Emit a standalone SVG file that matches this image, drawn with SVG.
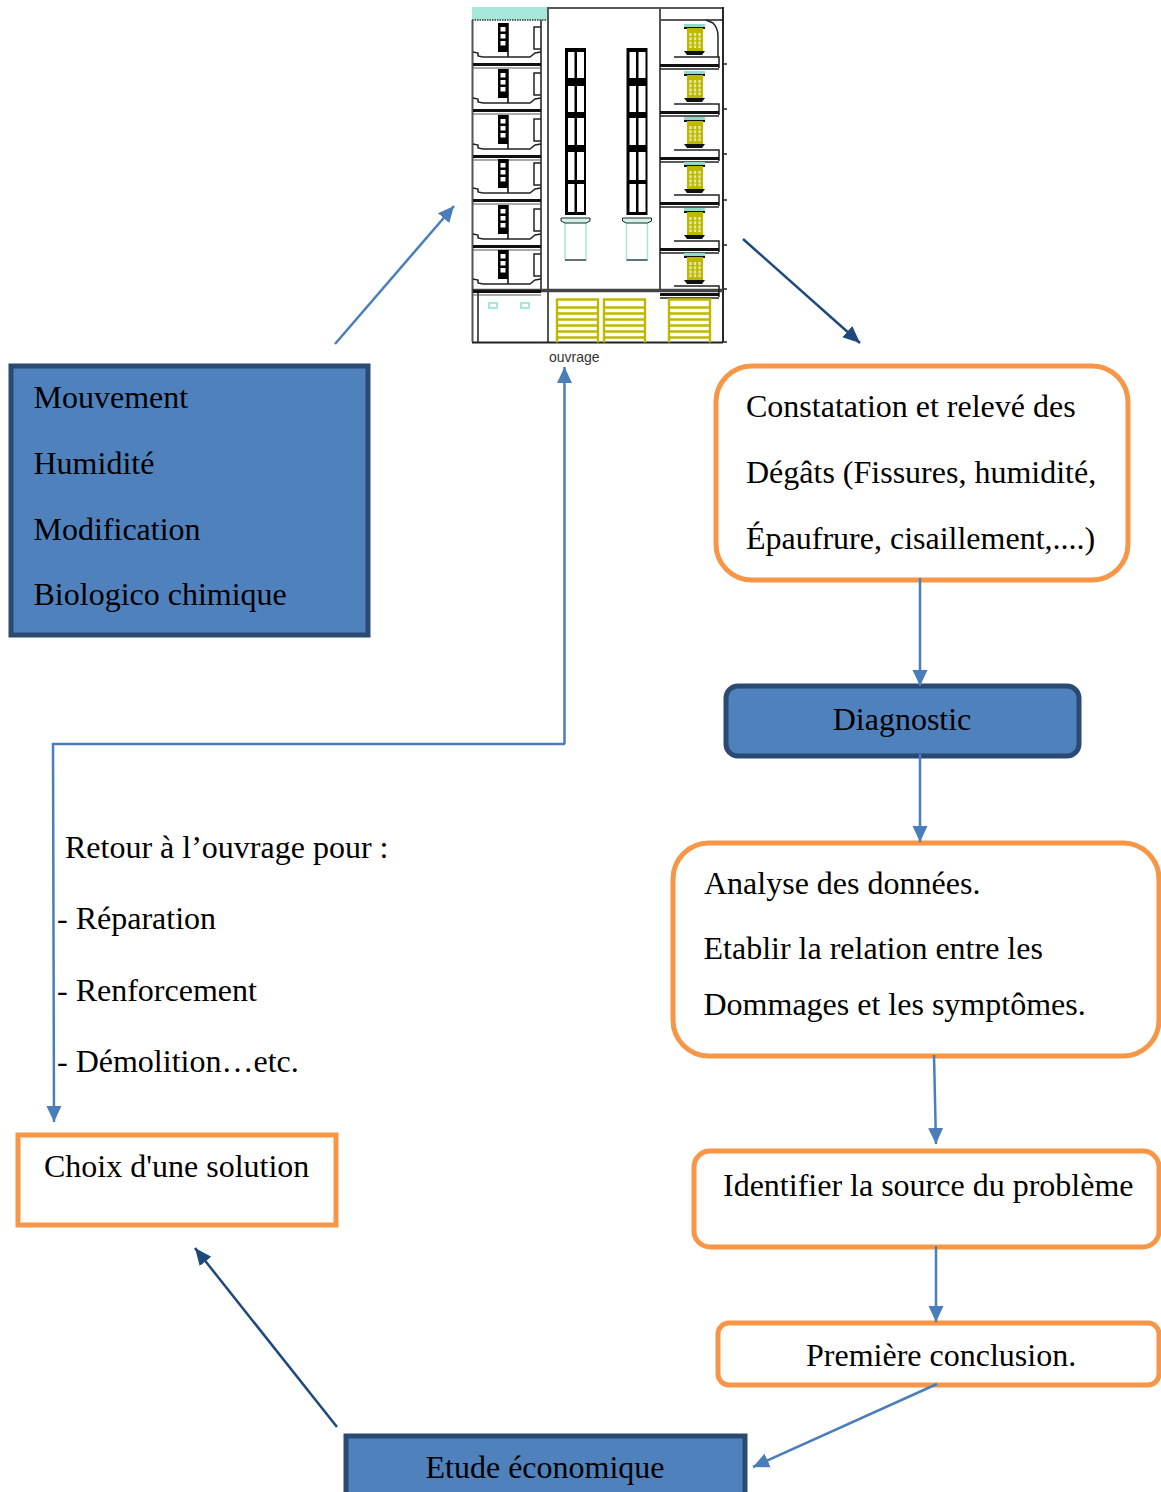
<svg xmlns="http://www.w3.org/2000/svg" xmlns:xlink="http://www.w3.org/1999/xlink" width="1161" height="1492" viewBox="0 0 1161 1492">
<style>
text{font-family:"Liberation Serif","Times New Roman",serif;font-size:32px;fill:#000}
.lab{font-family:"Liberation Sans",Arial,sans-serif;font-size:14px;fill:#333}
.blue{fill:#4f81bd;stroke:#2a4a73;stroke-width:5}
.or{fill:#fff;stroke:#f79646;stroke-width:5}
.c{fill:none;stroke:#4a7ebb;stroke-width:2.5}
.d{fill:none;stroke:#1f497d;stroke-width:2.5}
.l{fill:none;stroke:#222;stroke-width:1.5}
.g{fill:none;stroke:#555;stroke-width:2}
.y{fill:none;stroke:#bdb800;stroke-width:2.4}
.t{fill:none;stroke:#a5e8da;stroke-width:1.5}
</style>
<defs>
<marker id="a" markerUnits="userSpaceOnUse" markerWidth="18" markerHeight="18" refX="16" refY="9" orient="auto"><path d="M0 1.500L16 9L0 16.500Z" fill="#4a7ebb"/></marker>
<marker id="b" markerUnits="userSpaceOnUse" markerWidth="18" markerHeight="18" refX="17" refY="9" orient="auto"><path d="M0 1.500L17 9L0 16.500Z" fill="#1f497d"/></marker>
<g id="lu">
<rect x="498" y="0" width="10" height="29" fill="#000"/>
<rect x="500.500" y="4" width="5" height="4.500" fill="#fff"/><rect x="500.500" y="11" width="5" height="4.500" fill="#fff"/><rect x="500.500" y="18" width="5" height="4.500" fill="#fff"/>
<path d="M508 0V34" stroke="#000" stroke-width="1.500"/>
<path class="l" d="M541 4H534V26H541M473 29L478 30V33L483 34H530L535 30L541 29"/>
<path d="M473 41.500H541" stroke="#111" stroke-width="3"/><path d="M473 45H541" stroke="#555" stroke-width="1.200"/>
</g>
<g id="ru">
<rect x="684" y="0" width="21" height="3" fill="#8fdccb"/>
<rect x="684" y="3" width="21" height="2" fill="#111"/>
<rect x="687" y="4" width="16" height="23" fill="#bdb800"/>
<path d="M690.500 9V24M695 9V24M699.500 9V24" stroke="#e8e6a0" stroke-width="2.400" stroke-dasharray="3 1.200"/>
<path d="M684 27H705L702 31H687Z" fill="#111"/>
<path d="M674 33H719V44" class="l"/><path d="M660 45H719" class="l"/>
<path d="M660 41.500H719" stroke="#111" stroke-width="3"/>
</g>
<g id="win">
<rect x="565" y="48" width="21" height="167" fill="#000"/>
<path d="M568 52h6.500v26h-6.500zM577 52h7v26h-7zM568 86h6.500v26h-6.500zM577 86h7v26h-7zM568 118h6.500v27h-6.500zM577 118h7v27h-7zM568 152h6.500v28h-6.500zM577 152h7v28h-7zM568 184h6.500v28h-6.500zM577 184h7v28h-7z" fill="#fff"/>
<path class="t" d="M565 222V260H586V222" />
<path d="M565 260H586" stroke="#222" stroke-width="1.200"/>
<path d="M561 218H590V221L586 223H565L561 221Z" fill="#cdf3ea" stroke="#222"/>
</g>
<g id="gate">
<path class="y" d="M0 43V0H41V43M0 8H41M0 14H41M0 20H41M0 26H41M0 32H41M0 38H41"/></g>
</defs>
<g id="ouvrage">
<rect x="472" y="7" width="76" height="13" fill="#a5e8da"/>
<path d="M472 20H548" stroke="#333" stroke-width="1.500" stroke-dasharray="1.500 1"/>
<path class="l" d="M548 8H723M660 20H723"/>
<path d="M723 7V342" stroke="#111" stroke-width="1.800"/>
<path class="l" d="M723 64H727M723 109H727M723 154H727M723 200H727M723 245H727M723 289H727M723 342H727"/>
<path class="g" d="M472.500 20V342M541 20V291M548 7V342M660 7V291M478 291V342"/>
<path d="M472 290.500H723" stroke="#444" stroke-width="3.500"/>
<path d="M472 342.500H723" stroke="#222" stroke-width="2"/>
<path class="l" d="M706 20L713 23Q718 28 718 36V57"/>
<use xlink:href="#lu" y="23"/><use xlink:href="#lu" y="69"/><use xlink:href="#lu" y="115"/><use xlink:href="#lu" y="159"/><use xlink:href="#lu" y="205"/><use xlink:href="#lu" y="250"/>
<use xlink:href="#ru" y="24"/><use xlink:href="#ru" y="71"/><use xlink:href="#ru" y="117"/><use xlink:href="#ru" y="162"/><use xlink:href="#ru" y="208"/><use xlink:href="#ru" y="253"/>
<use xlink:href="#win"/><use xlink:href="#win" x="61.500"/>
<rect x="489" y="303" width="8" height="5" fill="#fff" stroke="#a5e8da" stroke-width="2"/>
<rect x="521" y="303" width="8" height="5" fill="#fff" stroke="#a5e8da" stroke-width="2"/>
<use xlink:href="#gate" x="557" y="299.500"/><use xlink:href="#gate" x="604" y="299.500"/><use xlink:href="#gate" x="669" y="299.500"/>
<text class="lab" x="549" y="362">ouvrage</text>
</g>
<g id="causes"><rect class="blue" x="11" y="366" width="357" height="269"/>
<text x="33.500" y="408">Mouvement</text><text x="33.500" y="474">Humidité</text><text x="33.500" y="539.500">Modification</text><text x="33.500" y="605">Biologico chimique</text></g>
<g id="constatation"><rect class="or" x="716" y="366" width="412" height="214" rx="36"/>
<text x="746" y="417">Constatation et relevé des</text><text x="746" y="483">Dégâts (Fissures, humidité,</text><text x="746" y="549">Épaufrure, cisaillement,....)</text></g>
<g id="diagnostic"><rect class="blue" x="726" y="686" width="353" height="70" rx="12"/>
<text x="902" y="730" text-anchor="middle">Diagnostic</text></g>
<g id="analyse"><rect class="or" x="673" y="843" width="486" height="213" rx="36"/>
<text x="704" y="894">Analyse des données.</text><text x="703.500" y="959">Etablir la relation entre les</text><text x="703.500" y="1015">Dommages et les symptômes.</text></g>
<g id="identifier"><rect class="or" x="694" y="1151" width="465" height="96" rx="16"/>
<text x="723" y="1196">Identifier la source du problème</text></g>
<g id="conclusion"><rect class="or" x="718" y="1323" width="441" height="62" rx="11"/>
<text x="806" y="1366">Première conclusion.</text></g>
<g id="etude"><rect class="blue" x="346" y="1436" width="399" height="70"/>
<text x="545" y="1478" text-anchor="middle">Etude économique</text></g>
<g id="choix"><rect class="or" x="18" y="1135" width="318" height="90"/>
<text x="44" y="1177">Choix d'une solution</text></g>
<g id="retour"><text x="65" y="858">Retour à l’ouvrage pour :</text><text x="57" y="929">- Réparation</text><text x="57" y="1001">- Renforcement</text><text x="57" y="1072">- Démolition…etc.</text></g>
<g id="connectors">
<path class="c" d="M335 344L454 206" marker-end="url(#a)"/>
<path class="d" d="M743 239L860 343" marker-end="url(#b)"/>
<path class="c" d="M920 578V686" marker-end="url(#a)"/>
<path class="c" d="M920 754V842" marker-end="url(#a)"/>
<path class="c" d="M934 1055L936 1144" marker-end="url(#a)"/>
<path class="c" d="M936 1246V1322" marker-end="url(#a)"/>
<path class="c" d="M937 1384L753 1467" marker-end="url(#a)"/>
<path class="d" d="M337 1427L195 1248" marker-end="url(#b)"/>
<path class="c" d="M564.500 744V367" marker-end="url(#a)"/>
<path class="c" d="M565 744H53L54 1122" marker-end="url(#a)"/>
</g>
</svg>
